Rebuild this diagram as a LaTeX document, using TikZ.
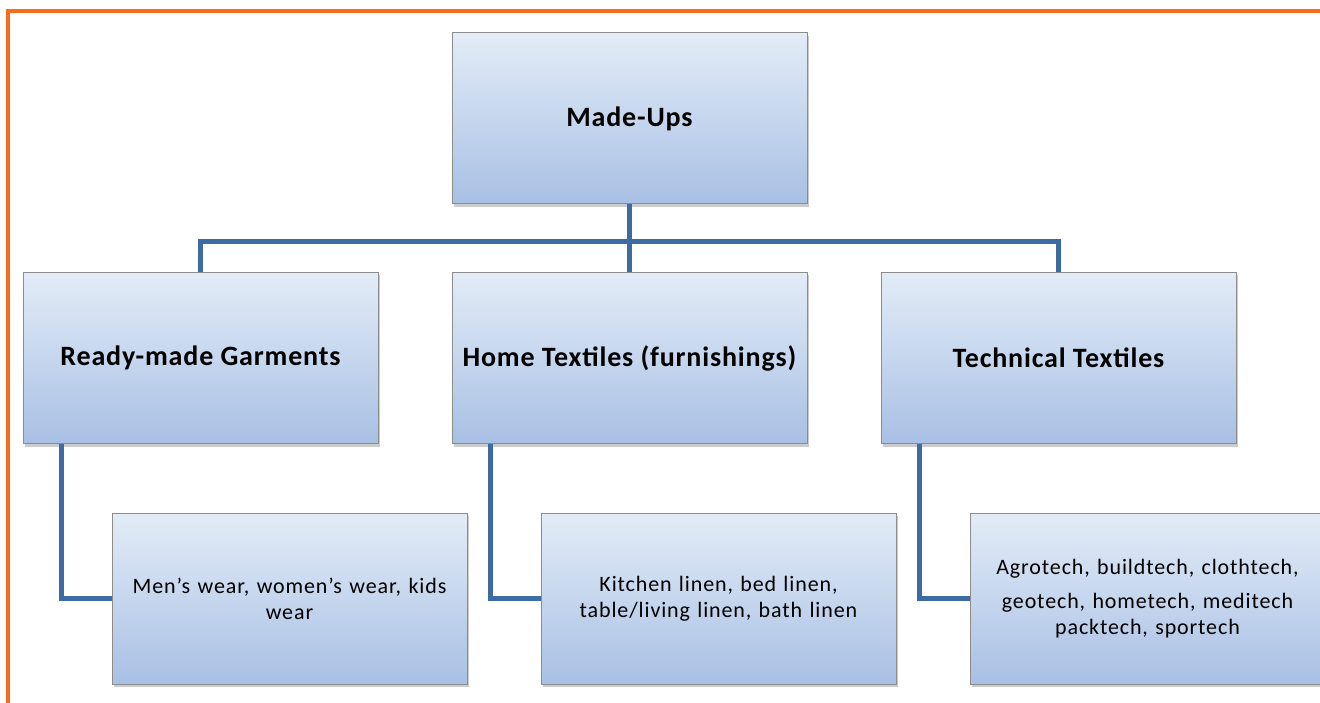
\documentclass[tikz,border=0pt]{standalone}
\usepackage{fontspec}
\setmainfont{Carlito}
\usetikzlibrary{positioning,shadows}
\definecolor{linkblue}{HTML}{3D6CA5}
\definecolor{boxtop}{HTML}{E3ECF7}
\definecolor{boxbot}{HTML}{A8C0E4}
\definecolor{frameorange}{HTML}{F86C1E}
\tikzset{
  catbox/.style={draw=black!45, line width=1pt, top color=boxtop, bottom color=boxbot,
    minimum width=355pt, minimum height=171pt, align=center, inner sep=4pt,
    drop shadow={shadow xshift=2pt, shadow yshift=-3pt, opacity=0.4}},
  headbox/.style={catbox, font=\bfseries\fontsize{28}{32}\selectfont\addfontfeatures{LetterSpace=3}},
  itembox/.style={catbox, font=\fontsize{22}{26}\selectfont\addfontfeatures{LetterSpace=4}, text width=340pt},
  link/.style={draw=linkblue, line width=4.5pt}
}
\begin{document}
\begin{tikzpicture}[x=1pt, y=-1pt]
\useasboundingbox (0,0) rectangle (1320,703);
\clip (0,0) rectangle (1320,703);
% outer frame
\draw[frameorange, line width=3.5pt] (8,703) -- (8,11) -- (1320,11);

% top level
\node[headbox] (madeups) at (629.5,118.5) {Made-Ups};

% categories
\node[headbox] (garments) at (200.5,358) {Ready-made Garments};
\node[headbox] (hometex) at (629.5,358) {Home Textiles (furnishings)};
\node[headbox] (techtex) at (1058.5,358) {Technical Textiles};

% items
\node[itembox] (wear) at (289.5,598.5) {Men’s wear, women’s wear, kids\\wear};
\node[itembox] (linen) at (718.5,598.5) {Kitchen linen, bed linen,\\table/living linen, bath linen};
\node[itembox] (techs) at (1147.5,598.5) {Agrotech, buildtech, clothtech,\\[8pt]geotech, hometech, meditech\\packtech, sportech};

% connectors
\coordinate (bus) at ([yshift=-37pt]madeups.south);
\draw[link] (madeups.south) -- (bus);
\draw[link] (bus) -| (garments.north);
\draw[link] (bus) -| (techtex.north);
\draw[link] (bus) -- (hometex.north);
\draw[link] ([xshift=39pt]garments.south west) |- (wear.west);
\draw[link] ([xshift=39pt]hometex.south west) |- (linen.west);
\draw[link] ([xshift=39pt]techtex.south west) |- (techs.west);
\end{tikzpicture}
\end{document}
